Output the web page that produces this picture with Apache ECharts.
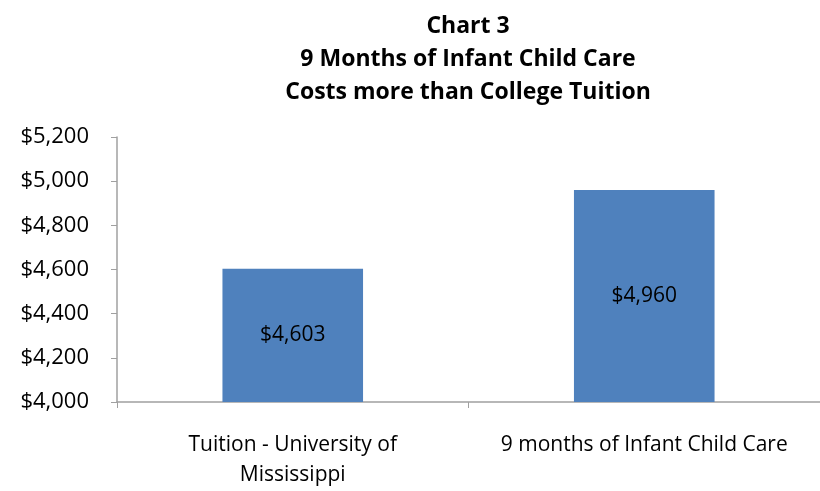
<!DOCTYPE html>
<html><head><meta charset="utf-8">
<script src="https://cdn.jsdelivr.net/npm/echarts@6/dist/echarts.min.js"></script>
<style>html,body{margin:0;padding:0;background:#fff}#c{width:820px;height:491px}</style>
</head><body><div id="c"></div>
<script>
const titleLines = ['Chart 3', '9 Months of Infant Child Care', 'Costs more than College Tuition'];
const categories = ['Tuition - University of\nMississippi', '9 months of Infant Child Care'];
const values = [4603, 4960];
const yMin = 4000, yMax = 5200, yStep = 200;

const fmt = v => '$' + v.toLocaleString('en-US');
const font = '"Open Sans", sans-serif';
const chart = echarts.init(document.getElementById('c'));
chart.setOption({
  animation: false,
  title: {
    text: titleLines.join('\n'),
    left: 463, top: 5, textAlign: 'center',
    textStyle: { fontFamily: font, fontSize: 23, fontWeight: 'bold', color: '#000', lineHeight: 33 }
  },
  grid: { left: 117, top: 137, right: 0, height: 265 },
  xAxis: {
    type: 'category', data: categories,
    axisLine: { lineStyle: { color: '#a0a0a0', width: 1.5 } },
    axisTick: { show: true, length: 6, lineStyle: { color: '#a0a0a0' } },
    axisLabel: { interval: 0, hideOverlap: false, fontFamily: font, fontSize: 21, color: '#000', margin: 28, lineHeight: 30 }
  },
  yAxis: {
    type: 'value', min: yMin, max: yMax, interval: yStep,
    axisLine: { show: true, lineStyle: { color: '#a0a0a0', width: 1.5 } },
    axisTick: { show: true, length: 6, lineStyle: { color: '#a0a0a0' } },
    splitLine: { show: false },
    axisLabel: { fontFamily: font, fontSize: 22, color: '#000', margin: 28, formatter: fmt }
  },
  series: [{
    type: 'bar', data: values, barWidth: '40%',
    itemStyle: { color: '#4F81BD' },
    label: { show: true, position: 'inside', fontFamily: font, fontSize: 21, color: '#000', formatter: p => fmt(p.value) }
  }]
});
</script></body></html>
